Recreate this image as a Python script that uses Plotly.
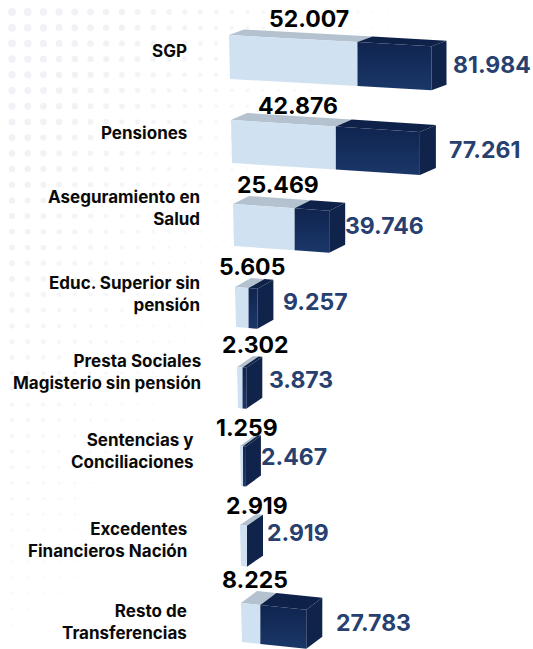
import plotly.graph_objects as go

# ---------- data ----------
categories = ["SGP", "Pensiones", "Aseguramiento en<br>Salud", "Educ. Superior sin<br>pensión",
              "Presta Sociales<br>Magisterio sin pensión", "Sentencias y<br>Conciliaciones",
              "Excedentes<br>Financieros Nación", "Resto de<br>Transferencias"]
series_a = [52.007, 42.876, 25.469, 5.605, 2.302, 1.259, 2.919, 8.225]
series_b = [81.984, 77.261, 39.746, 9.257, 3.873, 2.467, 2.919, 27.783]
labels_a = ["52.007", "42.876", "25.469", "5.605", "2.302", "1.259", "2.919", "8.225"]
labels_b = ["81.984", "77.261", "39.746", "9.257", "3.873", "2.467", "2.919", "27.783"]

# ---------- geometry / style (pixels per unit, per-row placement) ----------
W, H = 533, 649
UNIT = 2.44
row_unit = [2.47, 2.445, 2.42, 2.42, 2.4, 2.4, 2.4, 2.35]
left = [229, 231, 233, 235, 237, 240, 240, 241]
top = [35, 120, 204, 287, 367, 446, 525, 603]
height = [44, 43, 42, 40, 41, 40, 41, 39]
slope = [0.055, 0.063, 0.07, 0.08, 0.085, 0.09, 0.095, 0.105]
depth_x = [16, 16, 16, 16, 16, 15, 16, 16]
depth_x[0] = 15
depth_y = [-5.5, -7, -8, -9, -11, -11, -11, -12]

cat_right = [189, 189, 202, 202, 203, 196, 189, 189]
cat_y = [51, 133, 208, 294, 372, 451, 540, 622]
a_xy = [(309, 19), (298, 106), (278, 185), (252, 267), (255, 345), (247, 428), (257, 506), (255, 580)]
b_x = [451, 447, 343, 281, 267, 259, 265, 334]
b_y = [65, 150, 226, 302, 380, 457, 533, 623]

LIGHT, LIGHT_TOP = "#d0e1f2", "#b4c2d0"
DARK_TOP, DARK_SIDE = "#0e2148", "#10234a"
DARK_A, DARK_B = "#10244f", "#1a3769"
TXT_B = "#27406f"
FONT = "Inter, 'Noto Sans', sans-serif"

fig = go.Figure()

# faint dotted backdrop, fading towards the right and the bottom
dx, dy, sz, op = [], [], [], []
for i in range(34):
    for j in range(41):
        f = max(0.0, 1 - (i * 15.7 / 430) - (j * 15.7 / 750))
        if f > 0.03:
            dx.append(12 + i * 15.7); dy.append(12 + j * 15.7)
            sz.append(1.5 + 6.5 * f); op.append(min(1.0, 0.25 + f))
fig.add_trace(go.Scatter(x=[v / UNIT for v in dx], y=dy, mode="markers", hoverinfo="skip",
                         marker=dict(size=sz, color="#f1f2f6", opacity=op, line_width=0), showlegend=False))


def poly(pts, color=None, grad=None):
    xs = [p[0] / UNIT for p in pts] + [pts[0][0] / UNIT]
    ys = [p[1] for p in pts] + [pts[0][1]]
    kw = dict(fillgradient=grad) if grad else dict(fillcolor=color)
    fig.add_trace(go.Scatter(x=xs, y=ys, mode="lines", fill="toself", line=dict(width=0),
                             hoverinfo="skip", showlegend=False, **kw))


for r in range(len(categories)):
    a, b = series_a[r], series_b[r]
    x0, y0, h, s = left[r], top[r], height[r], slope[r]
    ddx, ddy = depth_x[r], depth_y[r]
    u = row_unit[r]
    xa = x0 + a * u
    xb = x0 + b * u
    ya, yb = y0 + s * a * u, y0 + s * b * u
    # top faces
    poly([(x0, y0), (xa, ya), (xa + ddx, ya + ddy), (x0 + ddx, y0 + ddy)], LIGHT_TOP)
    poly([(xa, ya), (xb, yb), (xb + ddx, yb + ddy), (xa + ddx, ya + ddy)], DARK_TOP)
    # front faces
    poly([(x0, y0), (xa, ya), (xa, ya + h), (x0 + 1, y0 + h)], LIGHT)
    if b > a:
        poly([(xa, ya), (xb, yb), (xb, yb + h), (xa, ya + h)],
             grad=dict(type="vertical", colorscale=[[0, DARK_B], [1, DARK_A]]))
    # right side
    poly([(xb, yb), (xb + ddx, yb + ddy), (xb + ddx, yb + ddy + h), (xb, yb + h)], DARK_SIDE)

    fig.add_annotation(x=cat_right[r] / UNIT, y=cat_y[r], text=f"<b>{categories[r]}</b>", showarrow=False,
                       xanchor="right", align="right", yanchor="middle",
                       font=dict(family=FONT, size=17, color="#0a0a0a"))
    fig.add_annotation(x=a_xy[r][0] / UNIT, y=a_xy[r][1], text=f"<b>{labels_a[r]}</b>", showarrow=False,
                       xanchor="center", yanchor="middle",
                       font=dict(family=FONT, size=23, color="#000000"))
    fig.add_annotation(x=b_x[r] / UNIT, y=b_y[r], text=f"<b>{labels_b[r]}</b>", showarrow=False,
                       xanchor="left", yanchor="middle",
                       font=dict(family=FONT, size=23, color=TXT_B))

fig.update_layout(width=W, height=H, margin=dict(l=0, r=0, t=0, b=0), autosize=False,
                  paper_bgcolor="white", plot_bgcolor="rgba(0,0,0,0)", showlegend=False,
                  xaxis=dict(range=[0, W / UNIT], visible=False, fixedrange=True),
                  yaxis=dict(range=[H, 0], visible=False, fixedrange=True))
fig.write_html("out.html", config={"displayModeBar": False},
               post_script="document.body.style.margin='0';document.documentElement.style.overflow='hidden';")
